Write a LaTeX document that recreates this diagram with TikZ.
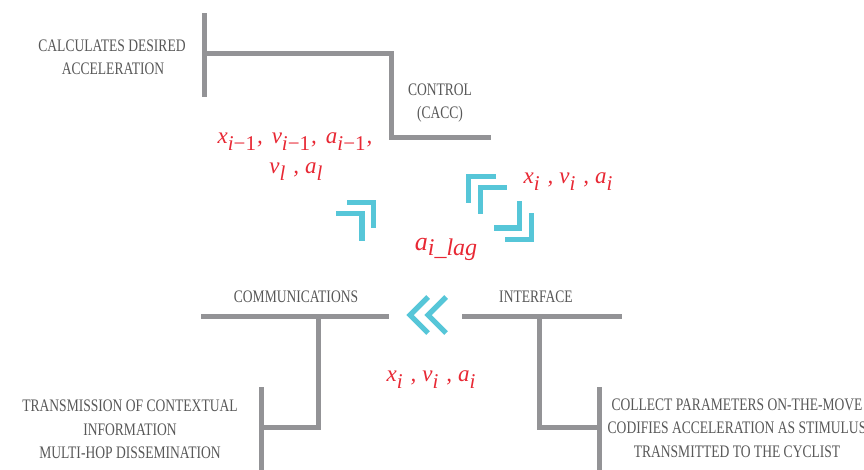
\documentclass[tikz,border=0pt]{standalone}
\usepackage{fontspec}
\setmainfont{Liberation Serif}
\newfontfamily\condfont[FakeStretch=0.77]{Liberation Serif}
\definecolor{lgray}{RGB}{147,147,150}
\definecolor{tgray}{RGB}{88,88,88}
\definecolor{cyanarrow}{RGB}{86,198,216}
\definecolor{lred}{RGB}{232,40,52}
\newcommand\lsub[1]{\raisebox{-7.5pt}{\fontsize{21pt}{21pt}\selectfont #1}}
\newcommand\csep{\hspace{8pt},\hspace{6pt}}
\newcommand\msep{\kern1pt,\hspace{9pt}}
\begin{document}
\begin{tikzpicture}[x=1pt,y=-1pt,
 bar/.style={draw=lgray,line width=5pt},
 chev/.style={draw=cyanarrow,line width=5.3pt,miter limit=10},
 lbl/.style={text=tgray,font=\condfont\fontsize{17.6pt}{20pt}\selectfont,inner sep=0pt,anchor=base},
 var/.style={text=lred,font=\fontsize{23pt}{25pt}\selectfont\itshape,inner sep=0pt,anchor=base}]
\clip (0,0) rectangle (864,469);
\fill[white] (0,0) rectangle (864,469);
% top bracket (control)
\coordinate (t1) at (204.5,13);
\coordinate (t2) at (204.5,97);
\coordinate (t3) at (204.5,53);
\coordinate (t4) at (391,53);
\coordinate (t5) at (391,137);
\coordinate (t6) at (491,137);
\draw[bar] (t1) -- (t2);
\draw[bar] (t3) -- (t4) -- (t5) -- (t6);
% communications bracket
\coordinate (c1) at (201,316);
\coordinate (c2) at (389,316);
\coordinate (c3) at (318,316);
\coordinate (c4) at (318,427);
\coordinate (c5) at (261,427);
\coordinate (c6) at (261,387);
\coordinate (c7) at (261,475);
\draw[bar] (c1) -- (c2);
\draw[bar] (c3) -- (c4) -- (c5);
\draw[bar] (c6) -- (c7);
% interface bracket
\coordinate (i1) at (462,316);
\coordinate (i2) at (622,316);
\coordinate (i3) at (539,316);
\coordinate (i4) at (539,427);
\coordinate (i5) at (599,427);
\coordinate (i6) at (599,387);
\coordinate (i7) at (599,475);
\draw[bar] (i1) -- (i2);
\draw[bar] (i3) -- (i4) -- (i5);
\draw[bar] (i6) -- (i7);
% gray labels
\node[lbl] (calc1) at (112,51.5) {CALCULATES DESIRED};
\node[lbl] (calc2) at (113,74) {ACCELERATION};
\node[lbl] (ctrl1) at (440,95) {CONTROL};
\node[lbl] (ctrl2) at (440,118) {(CACC)};
\node[lbl] (comm) at (296,302) {COMMUNICATIONS};
\node[lbl] (intf) at (536,302) {INTERFACE};
\node[lbl] (tr1) at (130,411.5) {TRANSMISSION OF CONTEXTUAL};
\node[lbl] (tr2) at (130,435) {INFORMATION};
\node[lbl] (tr3) at (130,458.5) {MULTI-HOP DISSEMINATION};
\node[lbl] (co1) at (737,410) {COLLECT PARAMETERS ON-THE-MOVE};
\node[lbl] (co2) at (737,433) {CODIFIES ACCELERATION AS STIMULUS};
\node[lbl] (co3) at (737,457) {TRANSMITTED TO THE CYCLIST};
% red variables
\node[var] (v1) at (295,143) {x\lsub{i\upshape−1}\msep v\lsub{i\upshape−1}\msep a\lsub{i\upshape−1}\kern1pt,};
\node[var] (v2) at (296,173) {v\lsub{l}\csep a\lsub{l}};
\node[var] (v3) at (568,183) {x\lsub{i}\csep v\lsub{i}\csep a\lsub{i}};
\node[var] (v4) at (446,250) {\fontsize{26pt}{28pt}\selectfont a\raisebox{-5.5pt}{\fontsize{24pt}{24pt}\selectfont i\_lag}};
\node[var] (v5) at (431,381) {x\lsub{i}\csep v\lsub{i}\csep a\lsub{i}};
% cyan arrows: left pair (up-right)
\draw[chev] (347,202.7) -- (373.5,202.7) -- (373.5,228.3);
\draw[chev] (336,213.7) -- (362,213.7) -- (362,240.7);
% right pair: up-left
\draw[chev] (496,176.2) -- (468.8,176.2) -- (468.8,202.7);
\draw[chev] (506.7,187.8) -- (480.2,187.8) -- (480.2,214);
% right pair: down-right
\draw[chev] (519.8,201) -- (519.8,228) -- (494,228);
\draw[chev] (531.8,213.3) -- (531.8,239.3) -- (505,239.3);
% chevrons pointing left
\draw[chev] (428,297) -- (410,315) -- (428,333);
\draw[chev] (446,297) -- (428,315) -- (446,333);
\end{tikzpicture}
\end{document}
